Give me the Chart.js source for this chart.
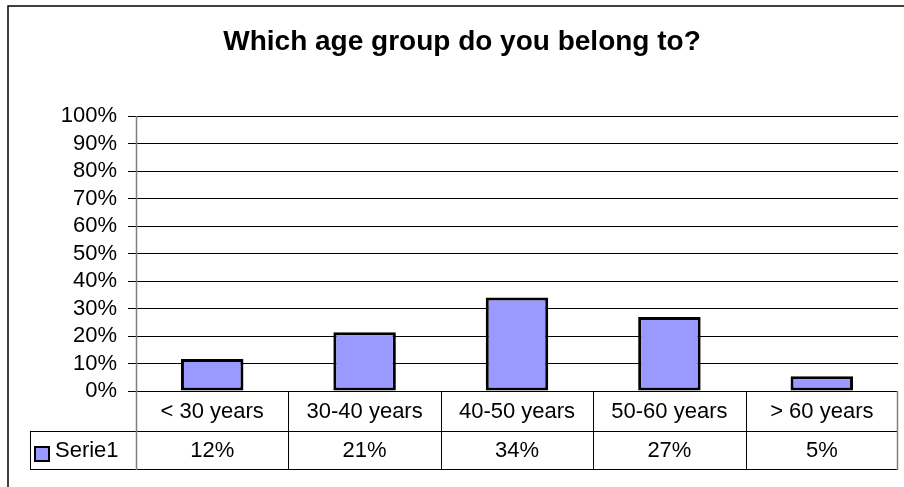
<!DOCTYPE html>
<html>
<head>
<meta charset="utf-8">
<script src="https://cdn.jsdelivr.net/npm/chart.js@4.4.1/dist/chart.umd.min.js"></script>
<style>
  body { margin: 0; background: #fff; }
  #wrap { width: 904px; height: 487px; }
</style>
</head>
<body>
<div id="wrap"><canvas id="grafico" width="904" height="487"></canvas></div>
<script>
// dados do grafico
const titulo = "Which age group do you belong to?";
const faixas = ["< 30 years", "30-40 years", "40-50 years", "50-60 years", "> 60 years"];
const serie1 = [11.6, 21.4, 34.0, 26.9, 5.4];
const nomeSerie = "Serie1";
const ticksY = [0, 10, 20, 30, 40, 50, 60, 70, 80, 90, 100];

const fonte = "'Liberation Sans', Arial, sans-serif";
const corBarra = "#9999FF";

// moldura, titulo e tabela de dados
const tabelaPlugin = {
  id: 'tabela',
  afterDraw(chart) {
    const ctx = chart.ctx;
    const area = chart.chartArea;
    const x = chart.scales.x;
    const larg = (area.right - area.left) / faixas.length;
    const topo = area.bottom;
    const meio = topo + 40;
    const fim = topo + 78;
    const esq = 30;

    ctx.save();
    // moldura externa
    ctx.strokeStyle = '#000';
    ctx.lineWidth = 1.5;
    ctx.beginPath();
    ctx.moveTo(8, chart.height + 2);
    ctx.lineTo(8, 6);
    ctx.lineTo(chart.width + 2, 6);
    ctx.stroke();

    // titulo
    ctx.fillStyle = '#000';
    ctx.font = "bold 28px " + fonte;
    ctx.textAlign = 'center';
    ctx.textBaseline = 'alphabetic';
    ctx.fillText(titulo, 462, 50);

    // linhas da tabela
    ctx.lineWidth = 1;
    ctx.strokeStyle = '#000';
    ctx.beginPath();
    ctx.moveTo(esq, meio + 0.5); ctx.lineTo(area.right, meio + 0.5);
    ctx.moveTo(esq, fim + 0.5); ctx.lineTo(area.right, fim + 0.5);
    ctx.moveTo(esq + 0.5, meio); ctx.lineTo(esq + 0.5, fim);
    for (let i = 1; i < faixas.length; i++) {
      const px = Math.round(area.left + larg * i) + 0.5;
      ctx.moveTo(px, topo); ctx.lineTo(px, fim);
    }
    ctx.stroke();

    ctx.strokeStyle = '#808080';
    ctx.lineWidth = 1.5;
    ctx.beginPath();
    ctx.moveTo(area.left + 0.5, area.top); ctx.lineTo(area.left + 0.5, fim + 1);
    ctx.moveTo(area.right - 0.5, topo); ctx.lineTo(area.right - 0.5, fim + 1);
    ctx.stroke();

    // textos da tabela
    ctx.font = "22px " + fonte;
    ctx.textBaseline = 'middle';
    ctx.textAlign = 'center';
    faixas.forEach((f, i) => {
      const cx = x.getPixelForValue(i);
      ctx.fillText(f, cx, (topo + meio) / 2 + 1);
      ctx.fillText(Math.round(serie1[i]) + "%", cx, (meio + fim) / 2 + 1);
    });

    // legenda
    ctx.fillStyle = corBarra;
    ctx.fillRect(35, 447, 14, 14);
    ctx.strokeStyle = '#000';
    ctx.lineWidth = 2;
    ctx.strokeRect(35, 447, 14, 14);
    ctx.fillStyle = '#000';
    ctx.textAlign = 'left';
    ctx.fillText(nomeSerie, 55, (meio + fim) / 2 + 1);
    ctx.restore();
  }
};

const graficoBarras = new Chart(document.querySelector("#grafico"), {
  type: 'bar',
  data: {
    labels: faixas,
    datasets: [{
      label: nomeSerie,
      data: serie1,
      backgroundColor: corBarra,
      borderColor: '#000',
      borderWidth: 3,
      borderSkipped: false,
      categoryPercentage: 1,
      barPercentage: 0.41
    }]
  },
  options: {
    responsive: false,
    devicePixelRatio: 1,
    animation: false,
    layout: { padding: { left: 0, top: 116, right: 6, bottom: 96 } },
    plugins: {
      legend: { display: false },
      title: { display: false },
      tooltip: { enabled: false }
    },
    scales: {
      x: { display: false },
      y: {
        min: 0,
        max: 100,
        afterFit: (scale) => { scale.width = 136; },
        afterBuildTicks: (scale) => { scale.ticks = ticksY.map(v => ({ value: v })); },
        border: { display: false },
        grid: { color: '#000', lineWidth: 1, drawTicks: true, tickLength: 8 },
        ticks: {
          color: '#000',
          padding: 11,
          autoSkip: false,
          font: { family: fonte, size: 22 },
          callback: (v) => v + "%"
        }
      }
    }
  },
  plugins: [tabelaPlugin]
});
</script>
</body>
</html>
